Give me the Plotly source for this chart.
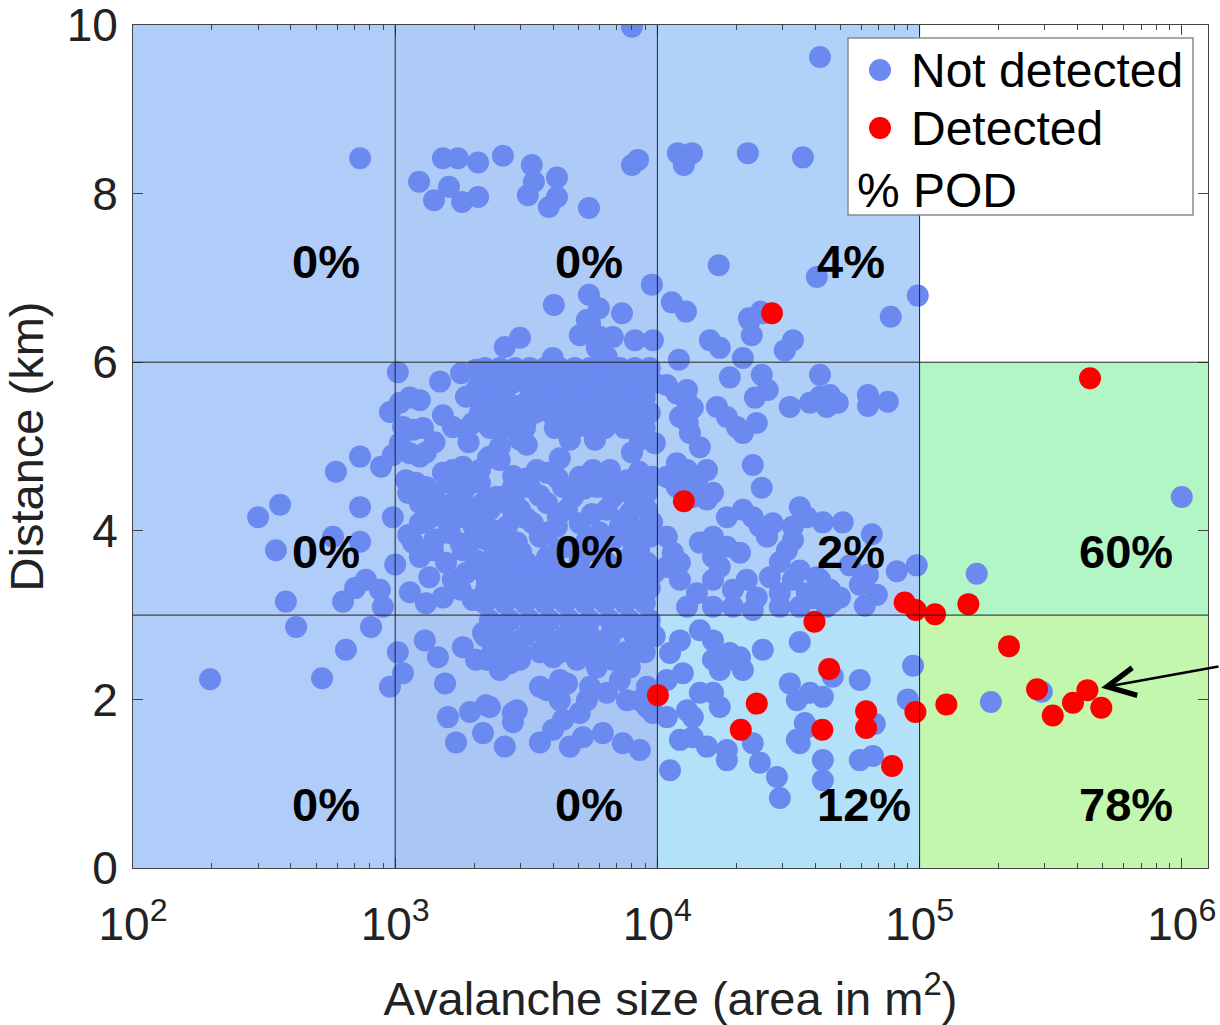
import plotly.graph_objects as go
import numpy as np

# ---------------- data (x = log10 of avalanche area in m^2, y = distance in km) ----------------
detected = [
    (4.437, 6.58), (4.101, 4.35), (5.650, 5.81), (4.002, 2.05), (4.318, 1.64), (4.379, 1.95),
    (4.599, 2.92), (4.655, 2.36), (4.629, 1.64), (4.796, 1.86), (4.796, 1.66), (4.895, 1.21),
    (4.943, 3.15), (4.985, 3.06), (5.059, 3.01), (5.186, 3.13), (4.984, 1.85), (5.102, 1.94),
    (5.341, 2.63), (5.448, 2.12), (5.508, 1.81), (5.585, 1.96), (5.640, 2.11), (5.693, 1.90),
]

nd_upper = [
    (3.903, 9.98), (4.620, 9.62), (2.866, 8.42), (3.182, 8.42), (3.239, 8.42), (3.316, 8.37),
    (3.411, 8.45), (3.521, 8.34), (3.529, 8.14), (3.617, 8.19), (3.506, 7.98), (3.617, 7.96),
    (3.586, 7.84), (3.739, 7.83), (3.091, 8.14), (3.205, 8.08), (3.148, 7.92), (3.255, 7.90),
    (3.316, 7.96), (3.903, 8.34), (3.926, 8.40), (4.078, 8.48), (4.132, 8.48), (4.101, 8.34),
    (4.345, 8.48), (4.555, 8.43), (4.234, 7.15), (4.608, 7.01), (3.979, 6.92), (3.605, 6.68),
    (3.739, 6.80), (3.777, 6.64), (3.865, 6.58), (3.731, 6.50), (4.055, 6.71), (4.109, 6.60),
    (4.395, 6.60), (4.349, 6.52), (4.890, 6.54), (4.993, 6.79), (4.402, 6.58), (4.353, 6.50),
    (4.360, 6.32), (4.200, 6.26), (4.238, 6.17), (4.326, 6.05), (4.517, 6.26), (4.486, 6.14),
    (3.476, 6.29), (3.418, 6.18), (3.601, 6.05), (3.704, 6.32), (3.743, 6.46), (3.781, 6.30),
    (3.830, 6.30), (3.914, 6.26), (3.983, 6.26), (3.769, 6.17), (3.807, 6.06), (4.082, 6.03),
]

nd_mid_right = [
    (4.276, 5.82), (4.398, 5.85), (4.421, 5.67), (4.372, 5.58), (4.620, 5.85), (4.505, 5.47),
    (4.582, 5.52), (4.620, 5.59), (4.658, 5.61), (4.688, 5.52), (4.646, 5.47), (4.803, 5.61),
    (4.803, 5.48), (4.879, 5.53), (4.227, 5.47), (4.265, 5.35), (4.303, 5.23), (4.326, 5.16),
    (4.379, 5.28), (4.113, 5.53), (4.135, 5.46), (4.086, 5.35), (4.116, 5.28), (4.124, 5.16),
    (4.162, 4.99), (4.036, 5.73), (4.074, 5.63), (4.113, 5.67), (4.074, 4.80), (4.113, 4.72),
    (4.189, 4.72), (4.151, 4.57), (4.212, 4.45), (4.189, 4.37), (4.135, 4.40), (4.036, 4.64),
    (4.074, 4.52), (4.364, 4.78), (4.398, 4.51), (4.265, 4.16), (4.326, 4.25), (4.364, 4.16),
    (4.391, 4.05), (4.418, 3.93), (4.440, 4.09), (4.517, 4.05), (4.543, 4.28), (4.570, 4.16),
    (4.631, 4.10), (4.707, 4.10), (4.517, 3.89), (4.494, 3.77), (4.818, 3.96), (4.162, 3.86),
    (4.212, 3.93), (4.265, 3.81), (4.315, 3.74), (4.212, 3.69), (4.036, 3.93), (4.059, 3.74),
    (4.086, 3.62), (4.036, 3.57), (4.086, 3.42), (4.151, 3.26), (4.212, 3.42), (4.238, 3.57),
    (4.288, 3.30), (4.341, 3.42), (4.379, 3.21), (4.429, 3.45), (4.467, 3.26), (4.517, 3.42),
    (4.570, 3.26), (4.608, 3.45), (4.658, 3.30), (4.696, 3.21), (4.113, 3.10), (4.212, 3.10),
    (4.288, 3.10), (4.364, 3.06), (4.467, 3.10), (4.543, 3.10), (4.646, 3.10), (4.467, 3.63),
    (4.543, 3.53), (4.620, 3.42), (4.593, 3.20), (4.669, 3.16), (4.803, 3.48), (4.837, 3.24),
    (4.791, 3.11), (4.913, 3.52), (4.989, 3.59), (4.734, 3.59), (4.772, 3.36),
]

nd_low_right = [
    (4.086, 2.70), (4.048, 2.55), (4.097, 2.31), (4.036, 2.23), (4.162, 2.82), (4.212, 2.70),
    (4.212, 2.47), (4.238, 2.35), (4.288, 2.47), (4.326, 2.35), (4.315, 2.50), (4.276, 2.55),
    (4.402, 2.59), (4.543, 2.68), (4.505, 2.19), (4.532, 1.99), (4.582, 2.08), (4.631, 2.03),
    (4.669, 2.27), (4.772, 2.23), (4.238, 1.91), (4.162, 2.08), (4.212, 2.08), (4.113, 1.87),
    (4.135, 1.79), (4.036, 1.79), (4.086, 1.52), (4.135, 1.55), (4.189, 1.44), (4.265, 1.40),
    (4.265, 1.28), (4.048, 1.16), (4.364, 1.48), (4.391, 1.25), (4.456, 1.08), (4.467, 0.83),
    (4.543, 1.48), (4.570, 1.67), (4.631, 1.28), (4.631, 1.04), (4.772, 1.28), (4.975, 2.40),
    (4.955, 2.00), (4.829, 1.71), (4.562, 1.72), (4.532, 1.52), (4.822, 1.33),
]

nd_far_right = [(6.000, 4.40), (5.218, 3.49), (5.272, 1.97), (5.466, 2.09)]

nd_mid_left = [
    (3.010, 5.88), (3.171, 5.77), (3.251, 5.87), (3.308, 5.91), (3.361, 5.85), (3.411, 5.87),
    (3.270, 5.59), (3.308, 5.67), (3.346, 5.53), (3.399, 5.59), (3.438, 5.47), (2.980, 5.41),
    (3.018, 5.52), (3.056, 5.58), (3.094, 5.55), (3.182, 5.37), (3.220, 5.23), (3.270, 5.20),
    (3.296, 5.28), (3.335, 5.35), (3.373, 5.28), (3.411, 5.23), (3.030, 5.23), (3.068, 5.20),
    (3.106, 5.22), (3.018, 5.04), (3.056, 4.92), (3.094, 4.88), (3.117, 4.93), (2.991, 4.90),
    (2.866, 4.88), (2.946, 4.76), (2.774, 4.70), (3.354, 4.86), (3.399, 4.84), (3.041, 4.60),
    (3.079, 4.57), (3.117, 4.52), (3.182, 4.69), (3.220, 4.72), (3.258, 4.76), (3.296, 4.66),
    (3.209, 4.57), (3.270, 4.52), (3.323, 4.57), (3.094, 4.33), (3.144, 4.37), (3.182, 4.25),
    (3.220, 4.33), (3.258, 4.37), (3.285, 4.25), (3.335, 4.33), (3.384, 4.40), (3.422, 4.33),
    (3.335, 4.16), (3.247, 4.16), (2.561, 4.31), (2.477, 4.16), (2.866, 4.28), (2.991, 4.16),
    (3.094, 4.09), (3.209, 3.97), (3.296, 3.89), (3.418, 3.97), (2.763, 3.93), (2.866, 3.87),
    (2.545, 3.77), (3.068, 3.86), (3.094, 3.69), (3.144, 3.77), (3.194, 3.62), (3.258, 3.77),
    (3.308, 3.65), (3.373, 3.69), (3.422, 3.62), (2.583, 3.16), (2.801, 3.16), (2.847, 3.32),
    (2.888, 3.42), (2.942, 3.30), (2.953, 3.10), (3.056, 3.27), (3.117, 3.14), (3.182, 3.21),
    (3.220, 3.42), (3.270, 3.50), (3.296, 3.18), (3.346, 3.30), (3.399, 3.42), (3.438, 3.26),
    (3.150, 4.45), (3.050, 4.45), (3.130, 4.15), (3.200, 4.10), (3.300, 4.05), (3.380, 4.00),
    (3.050, 3.95), (3.150, 3.90), (3.250, 3.85), (3.400, 3.78), (3.300, 3.55), (3.130, 3.45),
    (3.350, 3.40), (3.000, 3.60), (3.250, 3.30), (3.420, 3.95), (3.450, 4.15), (3.460, 4.45),
    (3.450, 4.65), (3.400, 5.00), (3.280, 5.05), (3.150, 5.05),
]

nd_core_upper = [
    (3.342, 5.93), (3.399, 5.93), (3.457, 5.93), (3.514, 5.93), (3.571, 5.93), (3.628, 5.93),
    (3.685, 5.93), (3.743, 5.93), (3.800, 5.93), (3.857, 5.93), (3.914, 5.93), (3.971, 5.93),
    (3.323, 5.75), (3.388, 5.75), (3.445, 5.75), (3.502, 5.75), (3.571, 5.75), (3.636, 5.75),
    (3.697, 5.75), (3.754, 5.75), (3.811, 5.75), (3.876, 5.75), (3.933, 5.75), (3.990, 5.75),
    (3.342, 5.58), (3.418, 5.58), (3.514, 5.58), (3.571, 5.58), (3.628, 5.58), (3.685, 5.58),
    (3.743, 5.58), (3.819, 5.58), (3.895, 5.58), (3.952, 5.58),
    (3.323, 5.40), (3.380, 5.40), (3.457, 5.40), (3.533, 5.40), (3.590, 5.40), (3.655, 5.40),
    (3.724, 5.40), (3.781, 5.40), (3.838, 5.40), (3.914, 5.40), (3.971, 5.40),
    (3.361, 5.22), (3.426, 5.22), (3.495, 5.22), (3.609, 5.22), (3.685, 5.22), (3.743, 5.22),
    (3.800, 5.22), (3.876, 5.22), (3.952, 5.22),
    (3.476, 5.08), (3.666, 5.08), (3.762, 5.08), (3.933, 5.08), (3.990, 5.04), (3.502, 5.02),
    (3.628, 4.86), (3.903, 4.93), (3.361, 4.88),
    (3.370, 5.84), (3.490, 5.84), (3.600, 5.84), (3.720, 5.84), (3.830, 5.84), (3.940, 5.84),
    (3.380, 5.49), (3.480, 5.49), (3.600, 5.49), (3.710, 5.49), (3.860, 5.49), (3.930, 5.49),
    (3.420, 5.31), (3.500, 5.31), (3.620, 5.31), (3.750, 5.31), (3.880, 5.31),
]

nd_core_middle = [
    (3.540, 4.72), (3.579, 4.69), (3.704, 4.64), (3.754, 4.72), (3.819, 4.72), (3.884, 4.60),
    (3.945, 4.57), (3.979, 4.64), (3.323, 4.72), (3.449, 4.52), (3.399, 4.40), (3.514, 4.52),
    (3.640, 4.52), (3.678, 4.40), (3.769, 4.52), (3.830, 4.40), (3.907, 4.40), (3.960, 4.45),
    (3.361, 4.25), (3.476, 4.25), (3.579, 4.33), (3.655, 4.25), (3.807, 4.25), (3.895, 4.21),
    (3.960, 4.25), (3.426, 4.05), (3.525, 4.09), (3.617, 4.05), (3.704, 4.09), (3.857, 4.05),
    (3.933, 4.01), (3.350, 3.89), (3.464, 3.86), (3.552, 3.93), (3.655, 3.81), (3.731, 3.89),
    (3.830, 3.89), (3.907, 3.86), (3.971, 3.93), (3.399, 3.65), (3.502, 3.62), (3.579, 3.69),
    (3.704, 3.65), (3.807, 3.62), (3.895, 3.69), (3.960, 3.62),
    (3.342, 3.51), (3.399, 3.51), (3.476, 3.51), (3.552, 3.51), (3.628, 3.51), (3.704, 3.51),
    (3.781, 3.51), (3.857, 3.51), (3.933, 3.51), (3.990, 3.51),
    (3.361, 3.32), (3.438, 3.32), (3.514, 3.32), (3.590, 3.32), (3.666, 3.32), (3.743, 3.32),
    (3.819, 3.32), (3.895, 3.32), (3.971, 3.32),
    (3.342, 3.14), (3.418, 3.14), (3.495, 3.14), (3.571, 3.14), (3.647, 3.14), (3.724, 3.14),
    (3.800, 3.14), (3.876, 3.14), (3.952, 3.14),
    (3.500, 4.62), (3.620, 4.62), (3.800, 4.62), (3.930, 4.70), (3.550, 4.42), (3.720, 4.50),
    (3.860, 4.52), (3.500, 4.15), (3.620, 4.17), (3.750, 4.20), (3.870, 4.13), (3.980, 4.10),
    (3.580, 3.98), (3.780, 3.98), (3.920, 3.95), (3.480, 3.75), (3.620, 3.78), (3.770, 3.75),
    (3.930, 3.78), (3.440, 3.42), (3.520, 3.42), (3.600, 3.42), (3.670, 3.42), (3.750, 3.42),
    (3.820, 3.42), (3.900, 3.42), (3.970, 3.42), (3.400, 3.23), (3.550, 3.23), (3.700, 3.23),
    (3.850, 3.23), (3.940, 3.23),
]

nd_low_left = [
    (3.361, 2.94), (3.438, 2.94), (3.514, 2.94), (3.590, 2.94), (3.666, 2.94), (3.743, 2.94),
    (3.819, 2.94), (3.895, 2.94), (3.971, 2.94),
    (3.342, 2.75), (3.418, 2.75), (3.495, 2.75), (3.571, 2.75), (3.647, 2.75), (3.743, 2.75),
    (3.819, 2.75), (3.914, 2.75), (3.990, 2.75),
    (3.380, 2.56), (3.476, 2.56), (3.552, 2.56), (3.628, 2.56), (3.724, 2.56), (3.781, 2.56),
    (3.876, 2.56), (3.952, 2.56),
    (3.400, 2.85), (3.550, 2.85), (3.700, 2.85), (3.850, 2.85), (3.970, 2.85), (3.450, 2.65),
    (3.600, 2.65), (3.680, 2.65), (3.800, 2.65), (3.930, 2.65),
    (3.113, 2.70), (3.163, 2.50), (3.190, 2.19), (3.258, 2.62), (3.335, 2.79), (3.373, 2.59),
    (3.422, 2.70), (3.308, 2.47), (3.438, 2.43), (3.201, 1.79), (3.232, 1.49), (3.285, 1.85),
    (3.346, 1.93), (3.335, 1.60), (3.418, 1.44), (3.449, 1.84), (3.010, 2.56), (3.030, 2.31),
    (2.980, 2.15), (2.294, 2.24), (2.721, 2.25), (2.812, 2.59), (2.622, 2.86), (2.908, 2.86),
    (3.361, 1.91), (3.464, 1.87), (3.449, 1.73), (3.552, 1.49), (3.602, 1.64), (3.640, 1.76),
    (3.666, 1.44), (3.716, 1.55), (3.704, 1.84), (3.731, 1.99), (3.743, 2.15), (3.807, 2.08),
    (3.857, 2.23), (3.884, 1.99), (3.933, 1.99), (3.960, 1.91), (3.960, 2.15), (3.792, 1.60),
    (3.868, 1.48), (3.933, 1.40), (3.983, 1.84), (3.579, 2.11), (3.628, 1.99), (3.655, 2.19),
    (3.552, 2.15), (3.628, 2.23), (3.602, 2.50), (3.693, 2.47), (3.769, 2.38), (3.830, 2.47),
    (3.895, 2.38), (3.476, 2.47), (3.399, 2.35), (3.350, 2.47),
]

# probability of detection per cell (area decade start, distance band) and label text
pod_area_start = [2, 3, 4, 2, 3, 4, 5, 2, 3, 4, 5]
pod_dist_label = [7.2, 7.2, 7.2, 3.75, 3.75, 3.75, 3.75, 0.75, 0.75, 0.75, 0.75]
pod_text = ["0%", "0%", "4%", "0%", "0%", "2%", "60%", "0%", "0%", "12%", "78%"]

# cell shading: (area from, area to, dist from, dist to, colour)
X_MAX_LOG = 6.1
cells = [
    (1e2, 1e3, 6, 10, "#afcdf8"), (1e3, 1e4, 6, 10, "#aecbf7"), (1e4, 1e5, 6, 10, "#b0d2f8"),
    (1e2, 1e3, 3, 6, "#afcdf8"), (1e3, 1e4, 3, 6, "#adcaf6"), (1e4, 1e5, 3, 6, "#b0cff8"),
    (1e5, 10 ** X_MAX_LOG, 3, 6, "#b3f6c6"),
    (1e2, 1e3, 0, 3, "#afcdf8"), (1e3, 1e4, 0, 3, "#aac6f5"), (1e4, 1e5, 0, 3, "#b4e1fa"),
    (1e5, 10 ** X_MAX_LOG, 0, 3, "#c3f7ad"),
]

x_tick_vals = [1e2, 1e3, 1e4, 1e5, 1e6]
x_tick_text = ["10<sup>2</sup>", "10<sup>3</sup>", "10<sup>4</sup>", "10<sup>5</sup>", "10<sup>6</sup>"]
y_tick_vals = [0, 2, 4, 6, 8, 10]

# --------------------------------------------------------------------------------------------
FONT = "Liberation Sans, Arial, sans-serif"
BLUE = "#6a8af0"
RED = "#ff0000"
W, H = 1220, 1025
ML, MR, MT, MB = 133, 12, 25, 157

nd_all = (nd_upper + nd_mid_right + nd_low_right + nd_far_right + nd_mid_left
          + nd_core_upper + nd_core_middle + nd_low_left)
nd_x = 10 ** np.array([p[0] for p in nd_all])
nd_y = np.array([p[1] for p in nd_all])
d_x = 10 ** np.array([p[0] for p in detected])
d_y = np.array([p[1] for p in detected])

fig = go.Figure()
fig.add_trace(go.Scatter(x=nd_x, y=nd_y, mode="markers", name="Not detected",
                         marker=dict(color=BLUE, size=22, line=dict(width=0)), showlegend=False))
fig.add_trace(go.Scatter(x=d_x, y=d_y, mode="markers", name="Detected",
                         marker=dict(color=RED, size=22, line=dict(width=0)), showlegend=False))

shapes = []
for x0, x1, y0, y1, c in cells:
    shapes.append(dict(type="rect", xref="x", yref="y", x0=x0, x1=x1, y0=y0, y1=y1,
                       fillcolor=c, line=dict(width=0), layer="below"))
for xv in [1e3, 1e4, 1e5]:
    shapes.append(dict(type="line", xref="x", yref="y", x0=xv, x1=xv, y0=0, y1=10,
                       line=dict(color="#222", width=1), layer="above"))
for yv in [3, 6]:
    shapes.append(dict(type="line", xref="x", yref="y", x0=1e2, x1=10 ** X_MAX_LOG, y0=yv, y1=yv,
                       line=dict(color="#222", width=1), layer="above"))

PW, PH = W - ML - MR, H - MT - MB
def px(xp):
    return (xp - ML) / PW
def py(yp):
    return (H - MB - yp) / PH

# legend box (manual)
shapes.append(dict(type="rect", xref="paper", yref="paper", x0=px(848), x1=px(1193), y0=py(215), y1=py(38),
                   fillcolor="white", line=dict(color="#8a8a8a", width=1.5), layer="above"))
for yy, c in [(70, BLUE), (128, RED)]:
    shapes.append(dict(type="circle", xref="paper", yref="paper", xsizemode="pixel", ysizemode="pixel",
                       xanchor=px(880), yanchor=py(yy), x0=-11, x1=11, y0=-11, y1=11,
                       fillcolor=c, line=dict(width=0), layer="above"))

annotations = []
for xs, yv, t in zip(pod_area_start, pod_dist_label, pod_text):
    annotations.append(dict(x=xs + 0.6, y=yv, xref="x", yref="y", text="<b>%s</b>" % t, showarrow=False,
                            xanchor="left", yanchor="middle", font=dict(family=FONT, size=47, color="black")))
for txt, xx, yy in [("Not detected", 909, 70), ("Detected", 909, 128), ("% POD", 855, 190)]:
    annotations.append(dict(x=px(xx), y=py(yy), xref="paper", yref="paper", text=txt, showarrow=False,
                            xanchor="left", yanchor="middle", font=dict(family=FONT, size=48, color="black")))
# arrow pointing at a detected event
annotations.append(dict(x=detected[22][0], y=detected[22][1], xref="x", yref="y", text="",
                        showarrow=True, ax=135, ay=-24, axref="pixel", ayref="pixel",
                        arrowhead=5, arrowsize=2.2, arrowwidth=2.5, arrowcolor="black", standoff=14))

fig.update_layout(
    width=W, height=H, margin=dict(l=ML, r=MR, t=MT, b=MB),
    paper_bgcolor="white", plot_bgcolor="white",
    font=dict(family=FONT, size=46, color="#222"),
    shapes=shapes, annotations=annotations, showlegend=False,
)
fig.update_xaxes(type="log", range=[2, X_MAX_LOG], tickvals=x_tick_vals, ticktext=x_tick_text,
                 ticks="inside", ticklen=10, tickcolor="#444", showgrid=False, zeroline=False,
                 showline=True, linecolor="#444", linewidth=1, mirror="ticks", automargin=False,
                 ticklabeloverflow="allow",
                 minor=dict(ticks="inside", ticklen=5, tickcolor="#444",
                            tickvals=[k * 10 ** d for d in range(2, 6) for k in range(2, 10)]),
                 ticklabelstandoff=16, tickfont=dict(size=46, color="#222"),
                 title=dict(text="Avalanche size (area in m<sup>2</sup>)", standoff=32,
                            font=dict(size=47, color="#222")))
fig.update_yaxes(range=[0, 10], tickvals=y_tick_vals, ticks="inside", ticklen=10, tickcolor="#444",
                 showgrid=False, zeroline=False, showline=True, linecolor="#444", linewidth=1, mirror="ticks",
                 automargin=False, ticklabeloverflow="allow",
                 ticklabelstandoff=5, tickfont=dict(size=46, color="#222"),
                 title=dict(text="Distance (km)", standoff=15, font=dict(size=47, color="#222")))

fig.write_html("out.html")
